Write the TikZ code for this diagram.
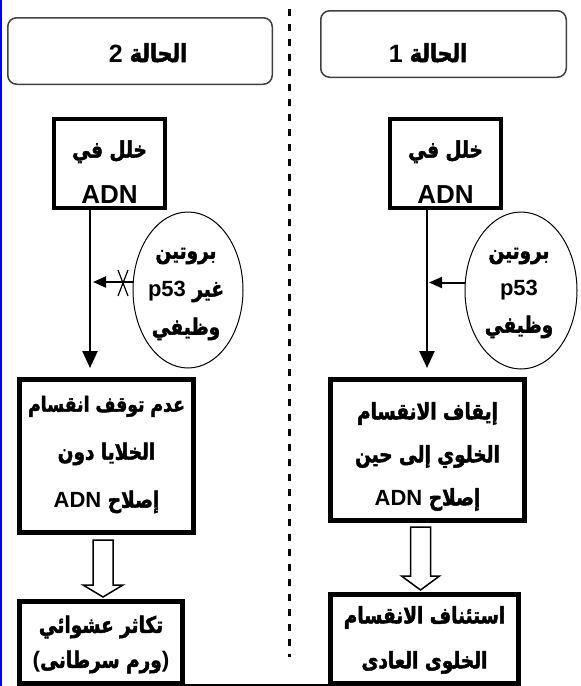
\documentclass[tikz,border=0pt]{standalone}
\usepackage{fontspec}
\usetikzlibrary{arrows.meta,shapes.geometric,calc}
\TeXXeTstate=1
\newfontfamily\arfont[Script=Arabic, FakeStretch=0.82, BoldFeatures={FakeBold=2}]{DejaVu Sans}
\newfontfamily\lafont{Liberation Sans}
\newcommand\rtl[1]{{\arfont\bfseries\beginR #1\endR}}
\newcommand\ltr[1]{\beginL{\lafont\bfseries #1}\endL}
\newcommand\fs[2]{\fontsize{#1}{#2}\selectfont}
\begin{document}
\begin{tikzpicture}[x=1pt,y=-1pt,
  box/.style={draw, line width=4.5pt, inner sep=0pt},
  titlebox/.style={draw=black!75, line width=1.5pt, rounded corners=9pt},
  bubble/.style={draw, ellipse, line width=1pt, inner sep=0pt},
  txt/.style={align=center, inner sep=0pt},
  flow/.style={line width=2.5pt, -{Triangle[length=17pt,width=15pt]}},
  act/.style={line width=2pt, -{Triangle[length=13pt,width=11pt]}},
  hollow/.style={draw, line width=1.5pt, fill=white, line join=miter}]
\useasboundingbox (0,0) rectangle (581,686);
% left blue border and dashed separator
\draw[blue, line width=2.5pt] (1.2,0) -- (1.2,686);
\draw[line width=3pt, dash pattern=on 7pt off 8pt] (289,9) -- (289,657);
% titles
\node[titlebox, minimum width=264.5pt, minimum height=66.5pt] (T2) at (140,51) {};
\node[txt, anchor=base, font=\fs{25}{30}] (T2t) at (148,62) {\rtl{الحالة \ltr{\fs{25}{30}2}}};
\node[titlebox, minimum width=245.5pt, minimum height=66.5pt] (T1) at (443.5,44) {};
\node[txt, anchor=base, font=\fs{25}{30}] (T1t) at (428,62) {\rtl{الحالة \ltr{\fs{25}{30}1}}};
% first boxes
\node[box, minimum width=111pt, minimum height=89pt] (L1) at (109.5,163.5) {};
\node[txt, font=\fs{22.5}{46}] (L1t) at (109.5,172) {\rtl{خلل في}\\\ltr{\fs{26}{46}ADN}};
\node[box, minimum width=111pt, minimum height=89pt] (R1) at (445.5,163.5) {};
\node[txt, font=\fs{22.5}{46}] (R1t) at (445.5,172) {\rtl{خلل في}\\\ltr{\fs{26}{46}ADN}};
% ellipses
\node[bubble, minimum width=110pt, minimum height=156pt] (LP) at (188,290) {};
\node[txt, font=\fs{22.5}{38}] (LPt) at (186,294) {\rtl{بروتين}\\\rtl{غير \ltr{\fs{22}{38}p53}}\\\rtl{وظيفي}};
\node[bubble, minimum width=112pt, minimum height=157pt] (RP) at (521,290.5) {};
\node[txt, font=\fs{22.5}{37}] (RPt) at (519,293) {\rtl{بروتين}\\\ltr{\fs{22}{37}p53}\\\rtl{وظيفي}};
% second boxes
\node[box, line width=5pt, minimum width=174pt, minimum height=153pt] (L2) at (106.5,456) {};
\node[txt, font=\fs{22.5}{48}] (L2t) at (106.5,454.5) {\rtl{\fs{21}{48}عدم توقف انقسام}\\\rtl{الخلايا دون}\\\rtl{إصلاح \ltr{\fs{22}{48}ADN}}};
\node[box, line width=5pt, minimum width=194pt, minimum height=141pt] (R2) at (427.5,450) {};
\node[txt, font=\fs{22.5}{43}] (R2t) at (427.5,456.5) {\rtl{إيقاف الانقسام}\\\rtl{الخلوي إلى حين}\\\rtl{إصلاح \ltr{\fs{22}{43}ADN}}};
% third boxes
\node[box, line width=5pt, minimum width=163pt, minimum height=82pt] (L3) at (101,642.5) {};
\node[txt, font=\fs{22.5}{35}] (L3t) at (101,644.5) {\rtl{تكاثر عشوائي}\\\rtl{\ltr{)}ورم سرطانى\ltr{(}}};
\node[box, line width=5pt, minimum width=188pt, minimum height=89pt] (R3) at (424.5,639) {};
\node[txt, font=\fs{22.5}{45}] (R3t) at (424.5,640) {\rtl{استئناف الانقسام}\\\rtl{الخلوى العادى}};
% vertical arrows
\coordinate (LA) at (90,0);
\coordinate (RA) at (427,0);
\draw[flow, shorten >=9pt] (L1.south -| LA) -- (L2.north -| LA);
\draw[flow, shorten >=9pt] (R1.south -| RA) -- (R2.north -| RA);
% p53 arrows
\coordinate (lps) at ($(LP.west)+(0,-8)$);
\coordinate (rps) at ($(RP.west)+(0,-8)$);
\draw[act, shorten >=3pt] (lps) -- (lps -| LA);
\draw[act, shorten >=2pt] (rps) -- (rps -| RA);
\coordinate (cx) at (123,283);
\draw[line width=1.2pt] ($(cx)+(-5,-13)$) -- ($(cx)+(5,13)$);
\draw[line width=1.2pt] ($(cx)+(5,-13)$) -- ($(cx)+(-5,13)$);
% hollow arrows
\coordinate (LH) at (103,0);
\coordinate (lht) at ($(L2.south -| LH)+(0,5)$);
\coordinate (lhp) at ($(L3.north -| LH)+(0,-2)$);
\draw[hollow] ($(lht)+(-10,0)$) -- ($(lht)+(-10,45)$) -- ($(lht)+(-20,45)$) -- (lhp) -- ($(lht)+(20,45)$) -- ($(lht)+(10,45)$) -- ($(lht)+(10,0)$) -- cycle;
\coordinate (RH) at (420.5,0);
\coordinate (rht) at ($(R2.south -| RH)+(0,4)$);
\coordinate (rhp) at ($(R3.north -| RH)+(0,-2)$);
\draw[hollow] ($(rht)+(-10,0)$) -- ($(rht)+(-10,49)$) -- ($(rht)+(-19,49)$) -- (rhp) -- ($(rht)+(19,49)$) -- ($(rht)+(10,49)$) -- ($(rht)+(10,0)$) -- cycle;
% bottom line
\draw[line width=4pt] (L3.south east) -- (R3.south west);
\end{tikzpicture}
\end{document}
